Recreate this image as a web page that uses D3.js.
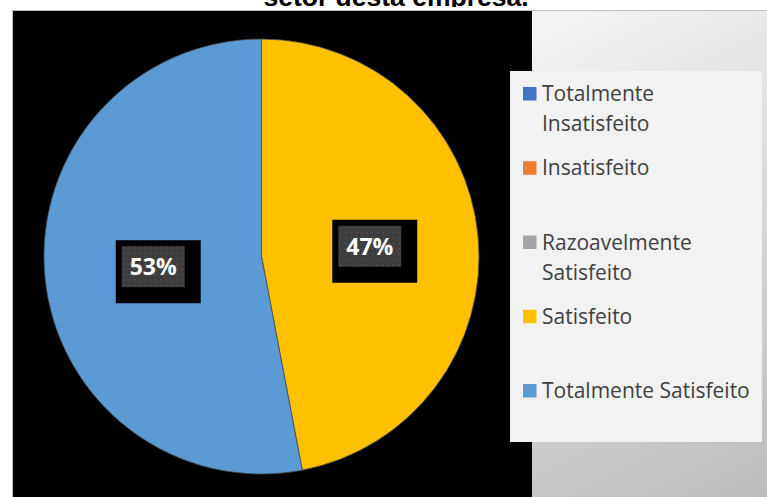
<!DOCTYPE html>
<html>
<head>
<meta charset="utf-8">
<script src="https://cdn.jsdelivr.net/npm/d3@7"></script>
<style>
  html, body { margin: 0; padding: 0; background: #ffffff; }
  svg { display: block; }
</style>
</head>
<body>
<svg id="chart" width="767" height="497"></svg>
<script>
// Satisfaction categories, slice values (percent) and their colours
const categories = [
  "Totalmente Insatisfeito",
  "Insatisfeito",
  "Razoavelmente Satisfeito",
  "Satisfeito",
  "Totalmente Satisfeito"
];
const values = [0, 0, 0, 47, 53];
const colors = ["#4472C4", "#ED7D31", "#A5A5A5", "#FFC000", "#5B9BD5"];
// Legend text, wrapped the way it is laid out in the legend box
const legendLines = [
  ["Totalmente", "Insatisfeito"],
  ["Insatisfeito"],
  ["Razoavelmente", "Satisfeito"],
  ["Satisfeito"],
  ["Totalmente Satisfeito"]
];
const titleText = "setor desta empresa.";

const W = 767, H = 497;
const svg = d3.select("#chart");
const defs = svg.append("defs");

// chart-area background gradient
const grad = defs.append("linearGradient")
  .attr("id", "areaGrad")
  .attr("gradientUnits", "userSpaceOnUse")
  .attr("x1", 532).attr("y1", 40)
  .attr("x2", 767).attr("y2", 497);
grad.append("stop").attr("offset", 0).attr("stop-color", "#f2f2f2");
grad.append("stop").attr("offset", 1).attr("stop-color", "#bcbcbc");

// dotted fill for the data-label boxes
const pat = defs.append("pattern")
  .attr("id", "dots")
  .attr("patternUnits", "userSpaceOnUse")
  .attr("width", 5.3).attr("height", 5.3);
pat.append("rect").attr("width", 5.3).attr("height", 5.3).attr("fill", "#3d3d3d");
pat.append("rect").attr("x", 2).attr("y", 2).attr("width", 1.4).attr("height", 1.4).attr("fill", "#545454");

defs.append("clipPath").attr("id", "titleClip")
  .append("rect").attr("x", 0).attr("y", 0).attr("width", W).attr("height", 7);

// title (only its lower edge is inside the frame)
svg.append("g").attr("clip-path", "url(#titleClip)")
  .append("text")
  .attr("x", 396).attr("y", 6)
  .attr("text-anchor", "middle")
  .attr("font-family", "Liberation Sans, Arial, sans-serif")
  .attr("font-weight", "bold")
  .attr("font-size", 26.5)
  .attr("fill", "#000")
  .text(titleText);

// chart area
svg.append("rect")
  .attr("x", 12.5).attr("y", 10.5).attr("width", W).attr("height", H)
  .attr("fill", "url(#areaGrad)")
  .attr("stroke", "#bfbfbf").attr("stroke-width", 1);

// plot area
svg.append("rect")
  .attr("x", 13).attr("y", 11).attr("width", 519).attr("height", H - 11)
  .attr("fill", "#000");

// pie
const cx = 261.5, cy = 256.5, R = 217.5;
const pie = d3.pie().sort(null).value(d => d.value);
const arcs = pie(categories.map((c, i) => ({ name: c, value: values[i], color: colors[i] })));
const arc = d3.arc().innerRadius(0).outerRadius(R);

const g = svg.append("g").attr("transform", `translate(${cx},${cy})`);
g.selectAll("path.slice")
  .data(arcs.filter(d => d.data.value > 0))
  .join("path")
  .attr("class", "slice")
  .attr("d", arc)
  .attr("fill", d => d.data.color)
  .attr("stroke", "#4d4d4d")
  .attr("stroke-width", 0.8);

// data labels
const total = d3.sum(values);
const fmt = d => Math.round(d.data.value / total * 100) + "%";
const boxW = 63, boxH = 41;
const lbl = g.selectAll("g.lbl")
  .data(arcs.filter(d => d.data.value > 0))
  .join("g")
  .attr("class", "lbl")
  .attr("transform", d => {
    const [x, y] = arc.centroid(d);
    return `translate(${x},${y})`;
  });
lbl.append("rect")
  .attr("x", -boxW / 2 - 6).attr("y", -boxH / 2 - 6)
  .attr("width", boxW + 22).attr("height", boxH + 22)
  .attr("fill", "#000");
lbl.append("rect")
  .attr("x", -boxW / 2).attr("y", -boxH / 2)
  .attr("width", boxW).attr("height", boxH)
  .attr("fill", "url(#dots)");
lbl.append("text")
  .attr("text-anchor", "middle")
  .attr("y", 8.5)
  .attr("font-family", "Open Sans, sans-serif")
  .attr("font-weight", "bold")
  .attr("font-size", 23)
  .attr("fill", "#ffffff")
  .text(fmt);

// legend
svg.append("rect")
  .attr("x", 510).attr("y", 71).attr("width", 252).attr("height", 371)
  .attr("fill", "#f2f2f2");

const legendY = d3.scalePoint().domain(categories).range([101, 398]);
const leg = svg.append("g").selectAll("g")
  .data(categories)
  .join("g")
  .attr("transform", d => `translate(0,${legendY(d)})`);
leg.append("rect")
  .attr("x", 523).attr("y", -14).attr("width", 13.5).attr("height", 13.5)
  .attr("fill", (d, i) => colors[i]);
leg.append("text")
  .attr("x", 542)
  .attr("font-family", "Open Sans, sans-serif")
  .attr("font-size", 21)
  .attr("fill", "#404040")
  .selectAll("tspan")
  .data((d, i) => legendLines[i])
  .join("tspan")
  .attr("x", 542)
  .attr("dy", (d, j) => j === 0 ? 0 : 30)
  .text(d => d);
</script>
</body>
</html>
